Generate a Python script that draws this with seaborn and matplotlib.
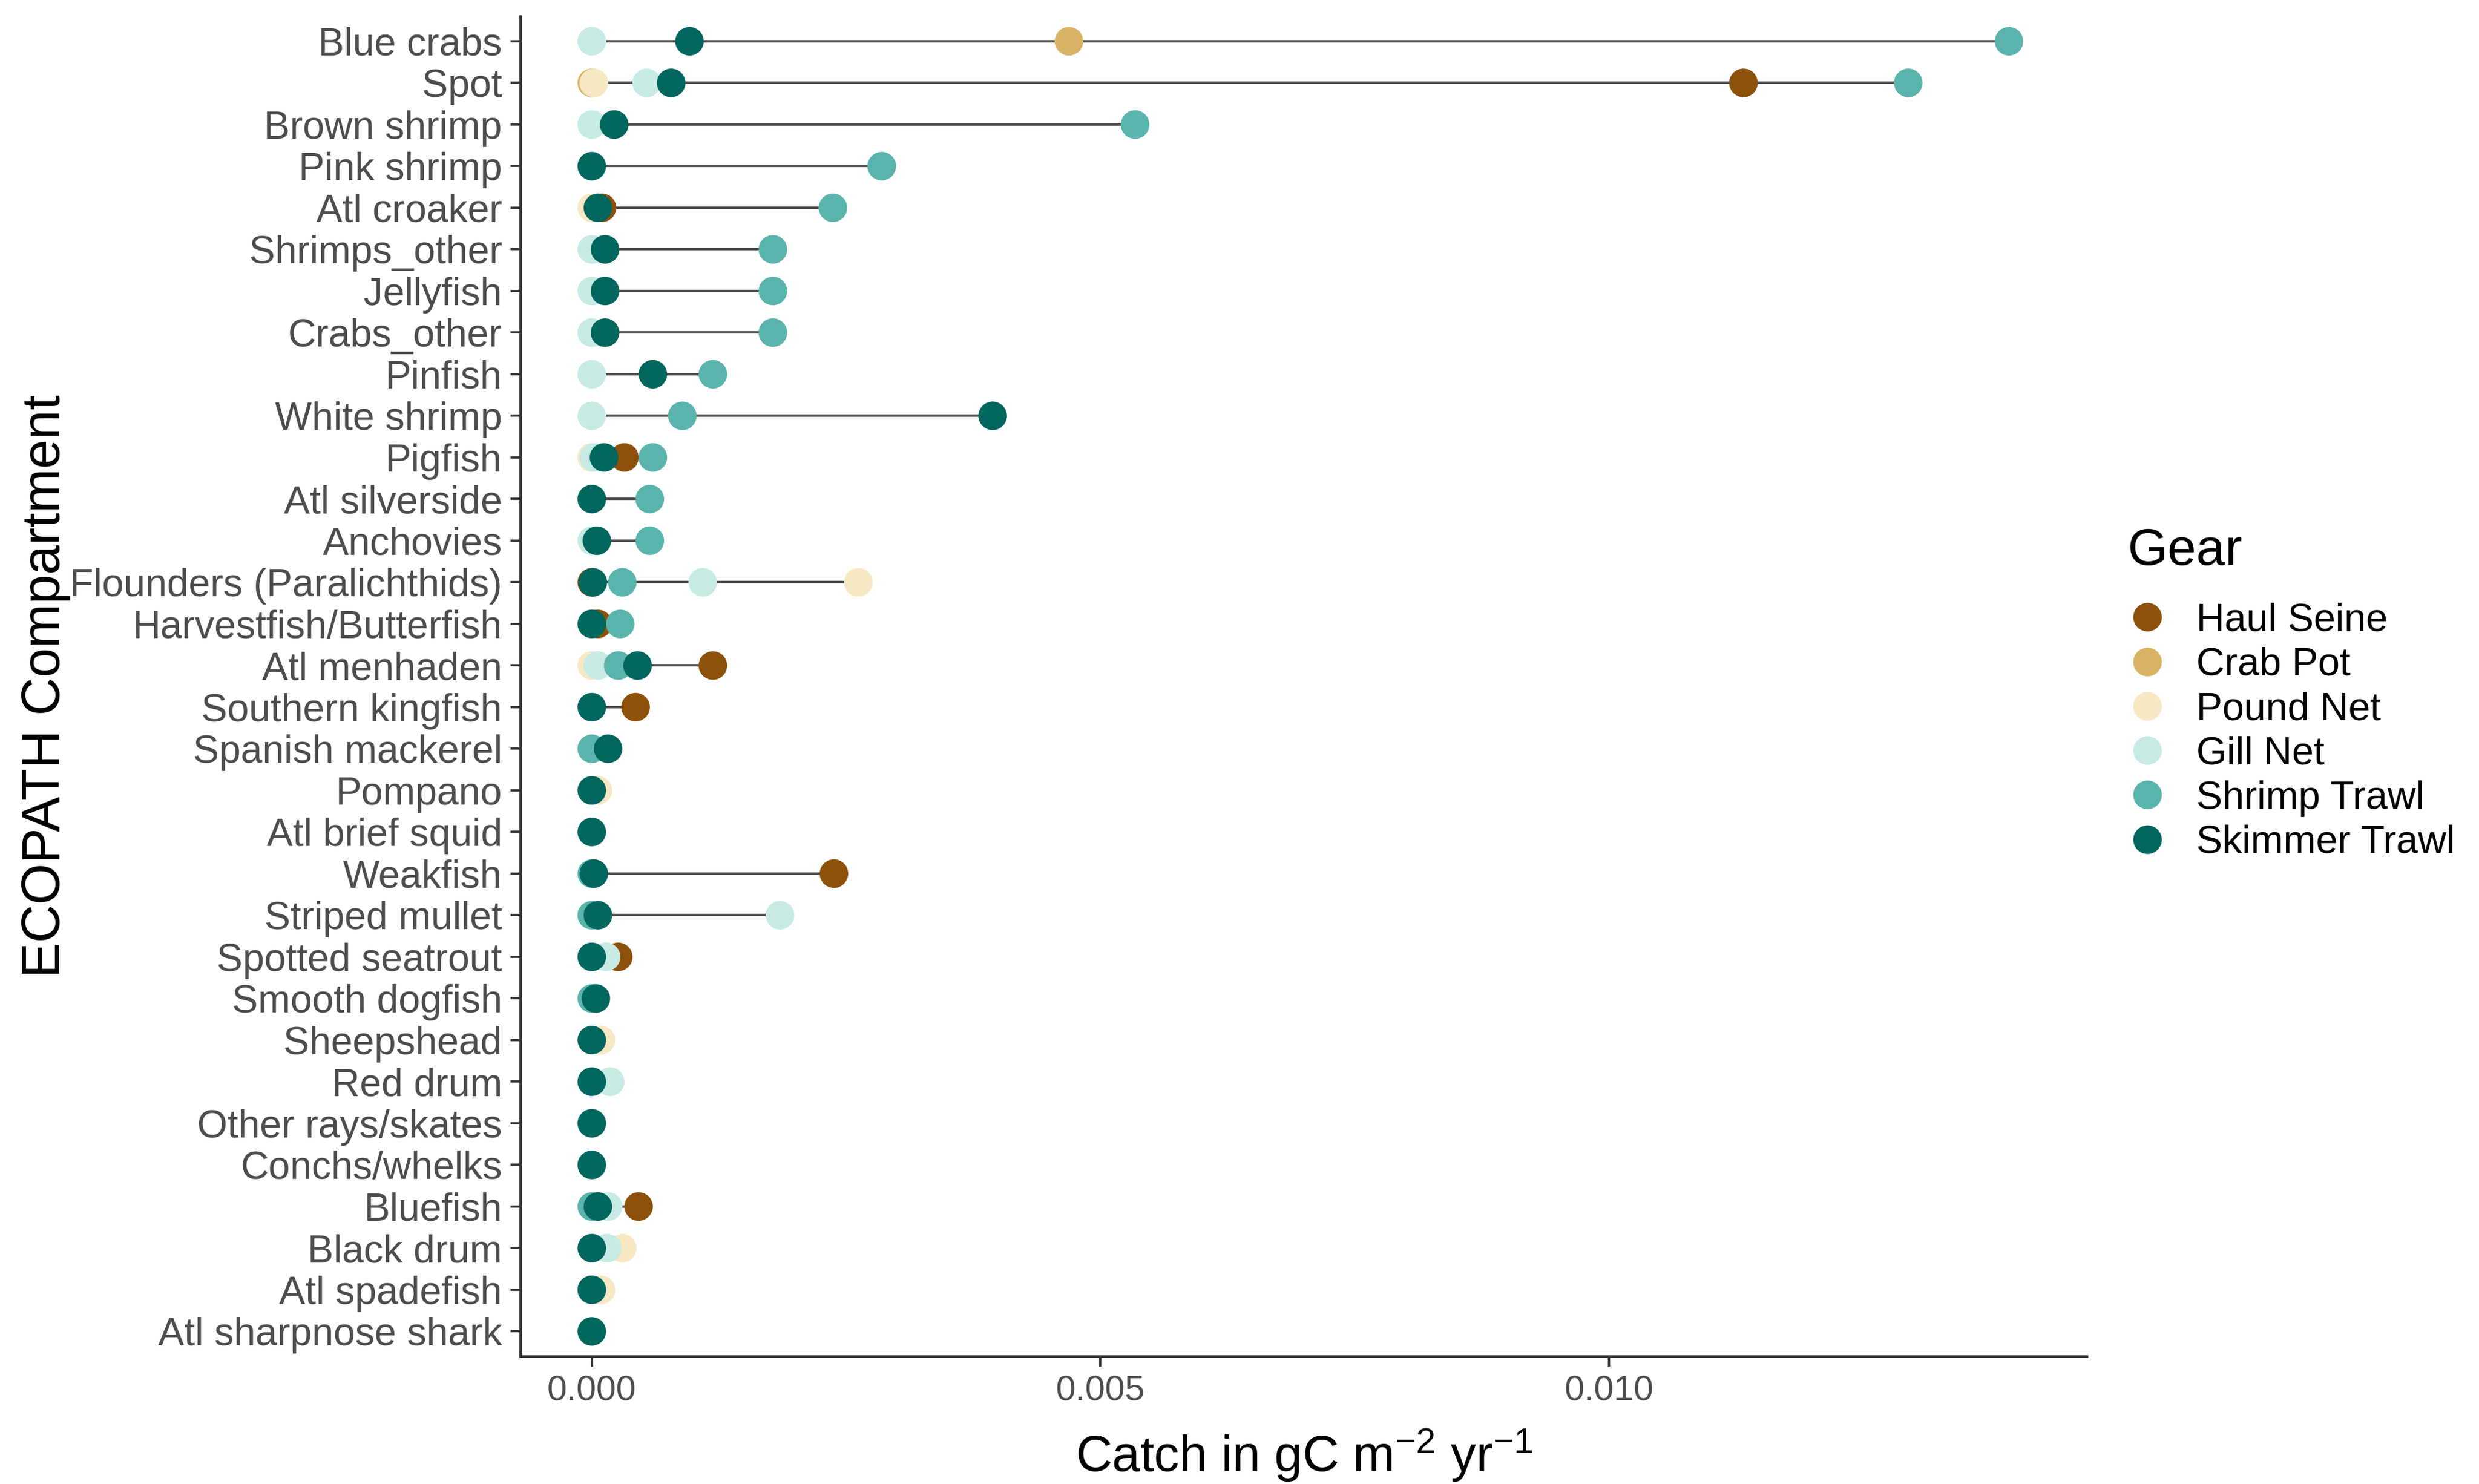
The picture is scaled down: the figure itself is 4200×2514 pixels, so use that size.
import numpy as np
import pandas as pd
import seaborn as sns
from matplotlib import pyplot as plt

nan = np.nan

compartments = ["Blue crabs", "Spot", "Brown shrimp", "Pink shrimp", "Atl croaker",
                "Shrimps_other", "Jellyfish", "Crabs_other", "Pinfish", "White shrimp",
                "Pigfish", "Atl silverside", "Anchovies", "Flounders (Paralichthids)",
                "Harvestfish/Butterfish", "Atl menhaden", "Southern kingfish",
                "Spanish mackerel", "Pompano", "Atl brief squid", "Weakfish",
                "Striped mullet", "Spotted seatrout", "Smooth dogfish", "Sheepshead",
                "Red drum", "Other rays/skates", "Conchs/whelks", "Bluefish",
                "Black drum", "Atl spadefish", "Atl sharpnose shark"]

gears = ["Haul Seine", "Crab Pot", "Pound Net", "Gill Net", "Shrimp Trawl", "Skimmer Trawl"]
gear_colors = ["#8C510A", "#D8B365", "#F6E8C3", "#C7EAE5", "#5AB4AC", "#01665E"]

# catch per compartment (same order as compartments), nan = gear not used
haul_seine = [nan, 0.01132, nan, nan, 0.0001, nan, nan, nan, nan, nan,
              0.00032, nan, nan, 0.0, 0.00006, 0.00119, 0.00043,
              nan, nan, nan, 0.00238, nan, 0.00026, nan, nan,
              nan, nan, nan, 0.00046, nan, nan, nan]
crab_pot = [0.00469, 0.0, nan, nan, nan, nan, nan, nan, nan, nan,
            nan, nan, nan, nan, nan, nan, nan,
            nan, nan, nan, nan, nan, nan, nan, nan,
            nan, nan, nan, nan, nan, nan, nan]
pound_net = [nan, 0.00002, nan, nan, 0.0, nan, nan, nan, nan, nan,
             0.0, nan, nan, 0.00262, nan, 0.0, nan,
             nan, 0.00006, nan, nan, nan, nan, nan, 0.00009,
             nan, nan, nan, nan, 0.0003, 0.00009, nan]
gill_net = [0.0, 0.00054, 0.0, nan, nan, 0.0, 0.0, 0.0, 0.0, 0.0,
            0.00002, nan, 0.0, 0.00109, nan, 0.00006, nan,
            nan, nan, nan, nan, 0.00185, 0.00014, nan, nan,
            0.00018, nan, nan, 0.00016, 0.00015, nan, nan]
shrimp_trawl = [0.01393, 0.01294, 0.00534, 0.00285, 0.00237, 0.00178, 0.00178, 0.00178, 0.00119, 0.00089,
                0.0006, 0.00057, 0.00057, 0.0003, 0.00028, 0.00026, nan,
                0.0, nan, nan, 0.0, 0.0, nan, 0.0, nan,
                nan, nan, nan, 0.0, nan, nan, nan]
skimmer_trawl = [0.00096, 0.00078, 0.00022, 0.0, 0.00006, 0.00013, 0.00013, 0.00013, 0.0006, 0.00394,
                 0.00012, 0.0, 0.00005, 0.00001, 0.0, 0.00045, 0.0,
                 0.00016, 0.0, 0.0, 0.00002, 0.00006, 0.0, 0.00004, 0.0,
                 0.0, 0.0, 0.0, 0.00006, 0.0, 0.0, 0.0]

wide = pd.DataFrame({"Compartment": compartments,
                     "Haul Seine": haul_seine, "Crab Pot": crab_pot,
                     "Pound Net": pound_net, "Gill Net": gill_net,
                     "Shrimp Trawl": shrimp_trawl, "Skimmer Trawl": skimmer_trawl})
df = wide.melt(id_vars="Compartment", var_name="Gear", value_name="Catch").dropna()
df["Compartment"] = pd.Categorical(df["Compartment"], categories=compartments, ordered=True)
df["Gear"] = pd.Categorical(df["Gear"], categories=gears, ordered=True)
df = df.sort_values(["Gear", "Compartment"])
rng = df.groupby("Compartment", observed=True)["Catch"].agg(["min", "max"]).reindex(compartments)

plt.rcParams["font.family"] = ["Liberation Sans", "DejaVu Sans"]
plt.rcParams["mathtext.default"] = "regular"

fig, ax = plt.subplots(figsize=(14, 8.38), dpi=300)
fig.subplots_adjust(left=0.210, right=0.842, top=0.989, bottom=0.086)

ypos = np.arange(len(compartments))
ax.hlines(ypos, rng["min"].values, rng["max"].values, color="#4d4d4d", lw=1.0, zorder=1)

df["ypos"] = df["Compartment"].cat.codes
sns.scatterplot(data=df, x="Catch", y="ypos", hue="Gear", hue_order=gears,
                palette=gear_colors, s=135, linewidth=0, ax=ax, zorder=2)

ax.set_yticks(ypos)
ax.set_yticklabels(compartments)
ax.set_ylim(len(compartments) - 1 + 0.6, -0.6)
ax.set_xlim(-0.0007, 0.0147)
ax.set_xticks([0.0, 0.005, 0.010])
ax.set_xticklabels(["0.000", "0.005", "0.010"])
sns.despine(ax=ax)
for sp in ["left", "bottom"]:
    ax.spines[sp].set_color("#333333")
    ax.spines[sp].set_linewidth(1.0)
ax.tick_params(axis="both", colors="#333333", labelcolor="#4d4d4d", length=4, width=0.9)
ax.tick_params(axis="y", labelsize=15.8)
ax.tick_params(axis="x", labelsize=14.5)

ax.set_ylabel("ECOPATH Compartment", fontsize=21.5)
ax.set_xlabel("Catch in gC m$^{-2}$ yr$^{-1}$", fontsize=20.5, labelpad=8)
ax.yaxis.set_label_coords(-0.287, 0.5)

leg = ax.legend(title="Gear", loc="upper left", bbox_to_anchor=(0.852, 0.655),
                bbox_transform=fig.transFigure, frameon=False, fontsize=15.9,
                title_fontsize=21, markerscale=1.0, handlelength=1.0,
                handletextpad=0.75, labelspacing=0.2, borderaxespad=0)
leg._legend_box.align = "left"
leg._legend_box.sep = 11

plt.savefig("out.png", dpi=300)
